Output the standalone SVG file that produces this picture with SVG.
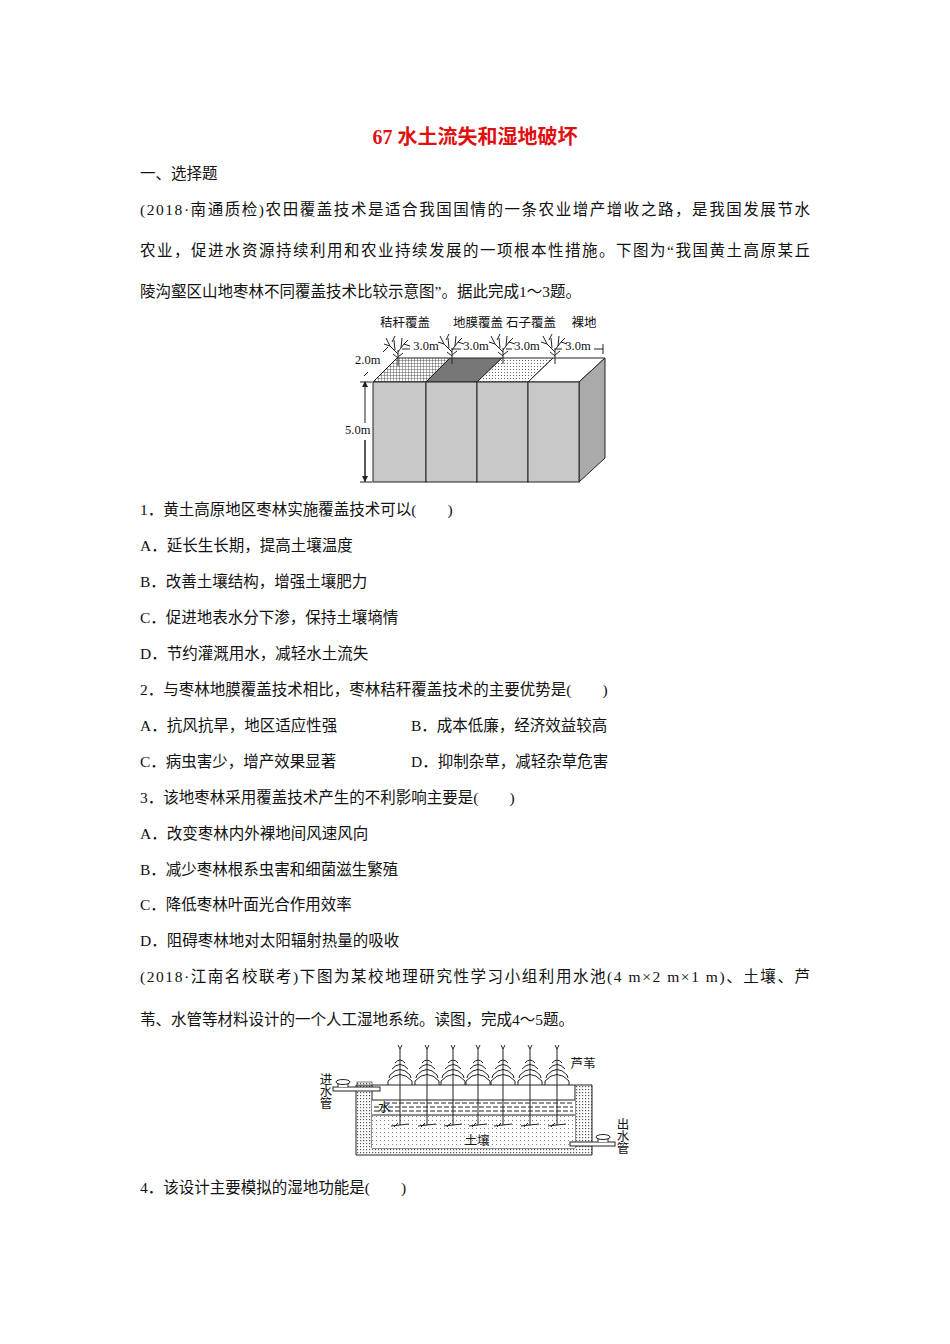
<svg xmlns="http://www.w3.org/2000/svg" width="950" height="1344" viewBox="0 0 950 1344">
<defs>
<style>
text{font-family:"Liberation Serif","Noto Sans CJK SC",serif;fill:#111}
.t{font-size:15.5px}
.s{font-size:12.5px}
.ln{stroke:#222;fill:none;stroke-width:1}
</style>
<pattern id="grid" width="3" height="3" patternUnits="userSpaceOnUse"><rect width="3" height="3" fill="#fff"/><path d="M0 0H3M0 0V3" stroke="#333" stroke-width="0.8"/></pattern>
<pattern id="dots" width="3" height="3" patternUnits="userSpaceOnUse"><rect width="3" height="3" fill="#fff"/><rect width="1" height="1" fill="#666"/></pattern>
<pattern id="hatch" width="3" height="3" patternUnits="userSpaceOnUse"><rect width="3" height="3" fill="#fff"/><rect width="1.2" height="1.2" fill="#555"/></pattern>
<pattern id="soil" width="4" height="4" patternUnits="userSpaceOnUse"><rect width="4" height="4" fill="#fff"/><rect width="1" height="1" fill="#888"/></pattern>
<marker id="ar" markerWidth="6" markerHeight="6" refX="5" refY="3" orient="auto-start-reverse"><path d="M0 0L6 3L0 6z" fill="#222"/></marker>
<g id="tree"><path class="ln" d="M0 4V-12M0 -8L-8 -16L-12 -24M-8 -16L-14 -18M0 -10L6 -18L10 -22M6 -18L12 -16M-3 -12L-4 -22M-6 -20L-3 -26M3 -14L4 -24M0 -4L-5 -8M0 -5L5 -9"/></g>
<g id="reed"><path class="ln" d="M0 0V-76"/><path d="M0 -76l-2 -4M0 -76l2 -4" stroke="#222"/><path class="ln" stroke-width="1.4" d="M-5 -62Q0 -68 5 -62M-8 -56Q0 -65 8 -56M-10 -50Q0 -61 10 -50L11 -47M-10 -50L-11 -47M-12 -44Q0 -57 12 -44L12 -40M-12 -44L-12 -40"/><path class="ln" d="M-9 1L9 -1M-6 2L-2 -2"/></g>
</defs>
<rect width="950" height="1344" fill="#fff"/>
<text x="475" y="144" text-anchor="middle" font-size="20" font-weight="bold" style="fill:#e01010">67  水土流失和湿地破坏</text>
<g class="t">
<text x="140" y="179">一、选择题</text>
<text x="140" y="215" textLength="670" lengthAdjust="spacing">(2018·南通质检)农田覆盖技术是适合我国国情的一条农业增产增收之路，是我国发展节水</text>
<text x="140" y="256" textLength="670" lengthAdjust="spacing">农业，促进水资源持续利用和农业持续发展的一项根本性措施。下图为“我国黄土高原某丘</text>
<text x="140" y="297">陵沟壑区山地枣林不同覆盖技术比较示意图”。据此完成1～3题。</text>
<text x="140" y="515">1．黄土高原地区枣林实施覆盖技术可以(　　)</text>
<text x="140" y="551">A．延长生长期，提高土壤温度</text>
<text x="140" y="587">B．改善土壤结构，增强土壤肥力</text>
<text x="140" y="623">C．促进地表水分下渗，保持土壤墒情</text>
<text x="140" y="659">D．节约灌溉用水，减轻水土流失</text>
<text x="140" y="695">2．与枣林地膜覆盖技术相比，枣林秸秆覆盖技术的主要优势是(　　)</text>
<text x="140" y="731">A．抗风抗旱，地区适应性强</text>
<text x="411" y="731">B．成本低廉，经济效益较高</text>
<text x="140" y="767">C．病虫害少，增产效果显著</text>
<text x="411" y="767">D．抑制杂草，减轻杂草危害</text>
<text x="140" y="803">3．该地枣林采用覆盖技术产生的不利影响主要是(　　)</text>
<text x="140" y="839">A．改变枣林内外裸地间风速风向</text>
<text x="140" y="875">B．减少枣林根系虫害和细菌滋生繁殖</text>
<text x="140" y="910">C．降低枣林叶面光合作用效率</text>
<text x="140" y="946">D．阻碍枣林地对太阳辐射热量的吸收</text>
<text x="140" y="982" textLength="670" lengthAdjust="spacing">(2018·江南名校联考)下图为某校地理研究性学习小组利用水池(4 m×2 m×1 m)、土壤、芦</text>
<text x="140" y="1025">苇、水管等材料设计的一个人工湿地系统。读图，完成4～5题。</text>
<text x="140" y="1193">4．该设计主要模拟的湿地功能是(　　)</text>
</g>
<g id="fig1">
<g id="top">
<path d="M373 382L397 358H450L426 382Z" fill="url(#grid)" stroke="#222"/>
<path d="M426 382L450 358H502L477 382Z" fill="#777" stroke="#222"/>
<path d="M477 382L502 358H553L528 382Z" fill="url(#dots)" stroke="#222"/>
<path d="M528 382L553 358H605L579 382Z" fill="#fff" stroke="#222"/>
</g>
<path d="M579 382L605 358V458L579 482Z" fill="#aaa" stroke="#222"/>
<rect x="373" y="382" width="53" height="100" fill="#c8c8c8" stroke="#222"/>
<rect x="426" y="382" width="51" height="100" fill="#c8c8c8" stroke="#222"/>
<rect x="477" y="382" width="51" height="100" fill="#c8c8c8" stroke="#222"/>
<rect x="528" y="382" width="51" height="100" fill="#c8c8c8" stroke="#222"/>
<use href="#tree" x="398" y="362"/><use href="#tree" x="452" y="360"/><use href="#tree" x="503" y="360"/><use href="#tree" x="555" y="360"/>
<g class="s">
<text x="405" y="327" text-anchor="middle">秸秆覆盖</text>
<text x="478" y="327" text-anchor="middle">地膜覆盖</text>
<text x="531" y="327" text-anchor="middle">石子覆盖</text>
<text x="584" y="327" text-anchor="middle">裸地</text>
<text x="426" y="350" text-anchor="middle">3.0m</text>
<text x="476" y="350" text-anchor="middle">3.0m</text>
<text x="527" y="350" text-anchor="middle">3.0m</text>
<text x="578" y="350" text-anchor="middle">3.0m</text>
<text x="355" y="364">2.0m</text>
<text x="345" y="434">5.0m</text>
</g>
<g class="ln">
<path d="M402 349H410M453 349H461M506 349H512M556 349H562M594 349H603M603 344V354"/>
<path d="M365 382V423M365 440V482M360 382H372M360 482H372" marker-start="url(#ar)"/>
<path d="M365 440V481" marker-end="url(#ar)"/>
<path d="M368 372L364 376M383 352L388 347"/>
</g>
</g>
<g id="fig2">
<path d="M356 1085H372V1148H575V1085H592V1155H356Z" fill="url(#hatch)" stroke="#222"/>
<rect x="372" y="1100" width="203" height="15" fill="#fff"/>
<path class="ln" stroke-dasharray="5 2" d="M385 1103H573M374 1107H573M374 1111H573"/>
<rect x="372" y="1115" width="203" height="33" fill="url(#soil)"/>
<path class="ln" d="M372 1100H575M372 1115H575M372 1085H575"/>
<rect x="357" y="1082" width="15" height="3" fill="url(#hatch)" stroke="#222" stroke-width="0.6"/>
<rect x="333" y="1087" width="47" height="4" fill="#fff" stroke="#222"/>
<path d="M338 1087V1083H348V1087" fill="#fff" stroke="#222"/><ellipse cx="343" cy="1082" rx="7" ry="2.5" fill="#fff" stroke="#222"/>
<rect x="570" y="1142" width="45" height="4" fill="#fff" stroke="#222"/>
<path d="M598 1142V1138H608V1142" fill="#fff" stroke="#222"/><ellipse cx="603" cy="1137" rx="7" ry="2.5" fill="#fff" stroke="#222"/>
<use href="#reed" x="400" y="1125"/><use href="#reed" x="427" y="1125"/><use href="#reed" x="453" y="1125"/><use href="#reed" x="478" y="1125"/><use href="#reed" x="503" y="1125"/><use href="#reed" x="530" y="1125"/><use href="#reed" x="557" y="1125"/>
<g class="s">
<text x="583" y="1068" text-anchor="middle">芦苇</text>
<text x="378" y="1112">水</text>
<text x="477" y="1145" text-anchor="middle">土壤</text>
<text x="326" y="1084" text-anchor="middle">进</text><text x="326" y="1096" text-anchor="middle">水</text><text x="326" y="1108" text-anchor="middle">管</text>
<text x="623" y="1129" text-anchor="middle">出</text><text x="623" y="1141" text-anchor="middle">水</text><text x="623" y="1153" text-anchor="middle">管</text>
</g>
</g>
</svg>
